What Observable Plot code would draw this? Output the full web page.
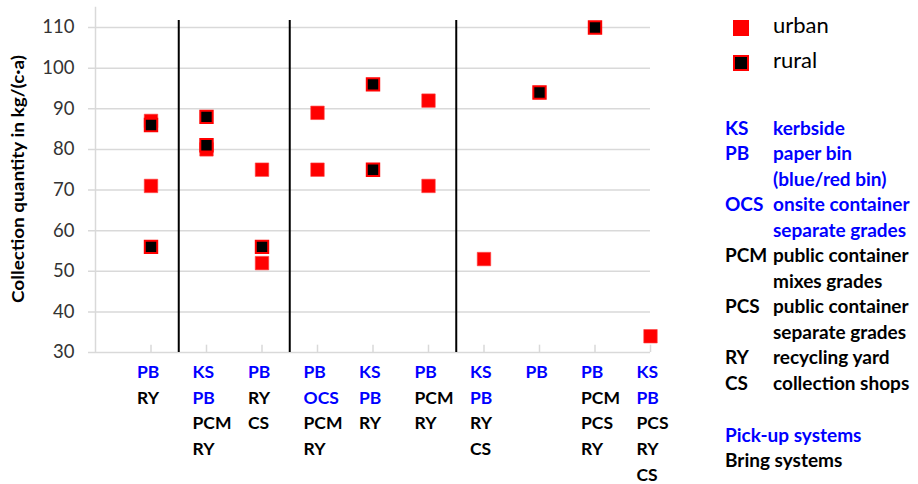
<!DOCTYPE html>
<html><head><meta charset="utf-8">
<script src="https://cdn.jsdelivr.net/npm/d3@7"></script>
<script src="https://cdn.jsdelivr.net/npm/@observablehq/plot@0.6"></script>
<style>body{margin:0;background:#fff}</style>
</head><body><div id="chart"></div>
<script>
// Categories: collection system combinations (codes per column)
const categories = [
  ["PB","RY"],
  ["KS","PB","PCM","RY"],
  ["PB","RY","CS"],
  ["PB","OCS","PCM","RY"],
  ["KS","PB","RY"],
  ["PB","PCM","RY"],
  ["KS","PB","RY","CS"],
  ["PB"],
  ["PB","PCM","PCS","RY"],
  ["KS","PB","PCS","RY","CS"]
];
// Collection quantity in kg/(c·a)
const urban = [[87,71],[80],[75,52],[89,75],[],[92,71],[53],[],[],[34]];
const rural = [[86,56],[88,81],[56],[],[96,75],[],[],[94],[110],[]];
const groupBreaks = [1.5, 3.5, 6.5];
const yTicks = [30,40,50,60,70,80,90,100,110];
const pickUpCodes = ["KS","PB","OCS"];
const abbrevCodes = ["KS","PB","","OCS","","PCM","","PCS","","RY","CS"];
const abbrevTexts = ["kerbside","paper bin","(blue/red bin)","onsite container","separate grades","public container","mixes grades","public container","separate grades","recycling yard","collection shops"];
const abbrevPickUp = [true,true,true,true,true,false,false,false,false,false,false];
const seriesNames = ["urban","rural"];
const yLabel = "Collection quantity in kg/(c·a)";

const BLUE = "#0000ff", RED = "#ff0000", GRID = "#d9d9d9";

const urbanPts = urban.flatMap((v,i)=>v.map(y=>({x:i+1,y})));
const ruralPts = rural.flatMap((v,i)=>v.map(y=>({x:i+1,y})));
const labels = categories.flatMap((codes,i)=>codes.map((c,j)=>({x:i+1,row:j,code:c})));
const catX = categories.map((c,i)=>i+1);

const rowMarks = d3.range(5).map(r => Plot.text(labels.filter(d=>d.row===r), {
  x:"x", y:()=>30, text:"code", dy: 20 + r*25.6, dx:-14, textAnchor:"start",
  fill: d => pickUpCodes.includes(d.code) ? BLUE : "black",
  fontWeight:"bold", fontSize:17.5
}));

const chart = Plot.plot({
  width:918, height:484,
  marginLeft:95, marginRight:268, marginTop:27, marginBottom:132,
  x:{domain:[0,10], axis:null},
  y:{domain:[30,110], axis:null},
  color:{type:"identity"},
  style:{fontFamily:"Lato, sans-serif", background:"white", overflow:"visible"},
  marks:[
    Plot.ruleY(yTicks, {x1:-0.126, x2:10, stroke:GRID, strokeWidth:1.5}),
    Plot.ruleX([0], {y1:30, y2:115, stroke:GRID, strokeWidth:1.5}),
    Plot.ruleX(catX, {y1:30, y2:31.8, stroke:GRID, strokeWidth:1.5}),
    Plot.ruleX(groupBreaks, {y1:30, y2:111.7, stroke:"black", strokeWidth:2}),
    Plot.text(yTicks, {x:0, y:d=>d, text:d=>String(d), textAnchor:"end", dx:-21, fontSize:18.5, fill:"#333"}),
    Plot.dot(urbanPts, {x:"x", y:"y", symbol:"square", r:7.6, fill:RED, stroke:"#ff4040", strokeWidth:0.6}),
    Plot.dot(ruralPts, {x:"x", y:"y", symbol:"square", r:7.0, fill:"black", stroke:RED, strokeWidth:2}),
    ...rowMarks
  ]
});
document.getElementById("chart").appendChild(chart);

const svg = d3.select(chart);
const FONT = "Lato, sans-serif";
// y-axis label
svg.append("text").attr("transform","translate(20,179) rotate(-90)")
  .attr("text-anchor","middle").attr("dominant-baseline","middle")
  .attr("font-family",FONT).attr("font-weight","bold").attr("font-size",17)
  .attr("textLength",248).attr("lengthAdjust","spacingAndGlyphs")
  .attr("fill","black").text(yLabel);
// series legend
svg.append("rect").attr("x",733).attr("y",20).attr("width",16).attr("height",16).attr("fill",RED);
svg.append("rect").attr("x",734).attr("y",56).attr("width",14).attr("height",14).attr("fill","black").attr("stroke",RED).attr("stroke-width",2);
seriesNames.forEach((s,i)=>{
  svg.append("text").attr("x",773).attr("y",27+i*35).attr("dominant-baseline","middle")
    .attr("text-anchor","start")
    .attr("font-family",FONT).attr("font-size",22).attr("fill","black").text(s);
});
// abbreviation legend
abbrevTexts.forEach((t,i)=>{
  const y = 130 + i*25.5;
  const col = abbrevPickUp[i] ? BLUE : "black";
  const g = svg.append("g").attr("font-family",FONT).attr("font-weight","bold").attr("font-size",19)
    .attr("fill",col).attr("text-anchor","start");
  if (abbrevCodes[i]) g.append("text").attr("x",725).attr("y",y).attr("dominant-baseline","middle").text(abbrevCodes[i]);
  g.append("text").attr("x",773).attr("y",y).attr("dominant-baseline","middle").text(t);
});
[["Pick-up systems",BLUE,437],["Bring systems","black",462]].forEach(([t,c,y])=>{
  svg.append("text").attr("x",725).attr("y",y).attr("dominant-baseline","middle").attr("text-anchor","start")
    .attr("font-family",FONT).attr("font-weight","bold").attr("font-size",19).attr("fill",c).text(t);
});
</script></body></html>
